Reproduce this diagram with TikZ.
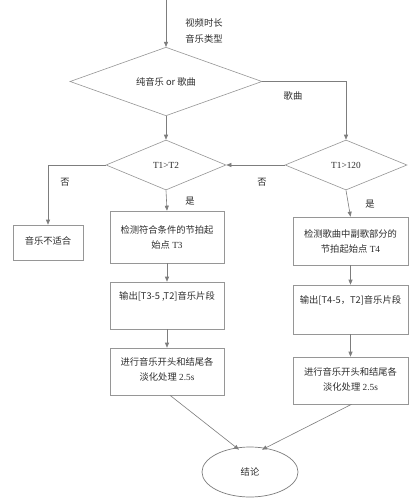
\documentclass[tikz,border=0pt]{standalone}
\usepackage{fontspec}
\setmainfont{Liberation Serif}
\newfontfamily\zh{Noto Sans CJK SC}
\usetikzlibrary{shapes.geometric,arrows.meta,calc}
\definecolor{ln}{RGB}{125,125,125}
\definecolor{bx}{RGB}{150,150,150}
\definecolor{tx}{RGB}{45,45,45}
\begin{document}
\begin{tikzpicture}[x=1pt,y=-1pt,
  every node/.style={text=tx,font=\fontsize{9.3}{15}\selectfont},
  lbl/.style={inner sep=0pt},
  dia/.style={draw=bx,line width=0.6pt,shape=diamond,inner sep=0pt},
  boxn/.style={draw=bx,line width=0.6pt,rectangle,inner sep=0pt,align=center,minimum width=114pt},
  ell/.style={draw=ln,line width=0.7pt,ellipse,inner sep=0pt,minimum width=96pt,minimum height=50pt},
  conn/.style={draw=ln,line width=0.6pt,-{Triangle[length=5pt,width=4pt]}}]
\useasboundingbox (0,0) rectangle (412,500);
\fill[white] (0,0) rectangle (412,500);
\coordinate (start) at (166,0);
\node[dia,minimum width=192pt,minimum height=49pt] (d1) at (166,81.5) {{\zh 纯音乐 or 歌曲}};
\node[dia,minimum width=120pt,minimum height=50pt] (d2) at (166,165) {T1>T2};
\node[dia,minimum width=122pt,minimum height=50pt] (d3) at (346,165) {T1>120};
\node[boxn,minimum width=70pt,minimum height=35pt,text depth=4pt] (bad) at (48,242.5) {{\zh 音乐不适合}};
\node[boxn,minimum height=52pt] (b1) at (167,237) {{\zh 检测符合条件的节拍起}\\{\zh 始点} T3};
\node[boxn,minimum height=47pt] (b2) at (167,305.5) {{\zh 输出[T3-5 ,T2]音乐片段}\\\strut};
\node[boxn,minimum height=47pt,text depth=5pt] (b3) at (167,371.5) {{\zh 进行音乐开头和结尾各}\\{\zh 淡化处理} 2.5s};
\node[boxn,minimum width=115pt,minimum height=48pt] (r1) at (350.5,241) {{\zh 检测歌曲中副歌部分的}\\{\zh 节拍起始点} T4};
\node[boxn,minimum width=115pt,minimum height=49pt] (r2) at (350.5,309.5) {{\zh 输出[T4-5，T2]音乐片段}\\\strut};
\node[boxn,minimum width=115pt,minimum height=47pt,text depth=3pt] (r3) at (350.5,380.5) {{\zh 进行音乐开头和结尾各}\\{\zh 淡化处理} 2.5s};
\node[ell] (concl) at (250,472) {{\zh 结论}};
\node[lbl] (l1) at (204,23) {\zh 视频时长};
\node[lbl] (l2) at (204,39) {\zh 音乐类型};
\node[lbl] (l3) at (293,96) {\zh 歌曲};
\node[lbl] (l4) at (65,182) {\zh 否};
\node[lbl] (l5) at (262,182) {\zh 否};
\node[lbl] (l6) at (190,201) {\zh 是};
\node[lbl] (l7) at (370,204) {\zh 是};
\path[conn] (start) -- (d1.north);
\path[conn] (d1.south) -- (d2.north);
\path[conn] (d1.east) -| (d3.north);
\path[conn] (d3.west) -- (d2.east);
\path[conn] (d2.west) -| (bad.north);
\path[conn] (d2.south) -- (b1.north);
\path[conn] (b1) -- (b2);
\path[conn] (b2) -- (b3);
\path[conn] (d3.south) -- (r1.north);
\path[conn] (r1) -- (r2);
\path[conn] (r2) -- (r3);
\path[conn] ([xshift=3pt]b3.south) -- ([xshift=-11pt,yshift=-3pt]concl.north);
\path[conn] ([xshift=1pt]r3.south) -- ([xshift=12pt,yshift=-3pt]concl.north);
\end{tikzpicture}
\end{document}
